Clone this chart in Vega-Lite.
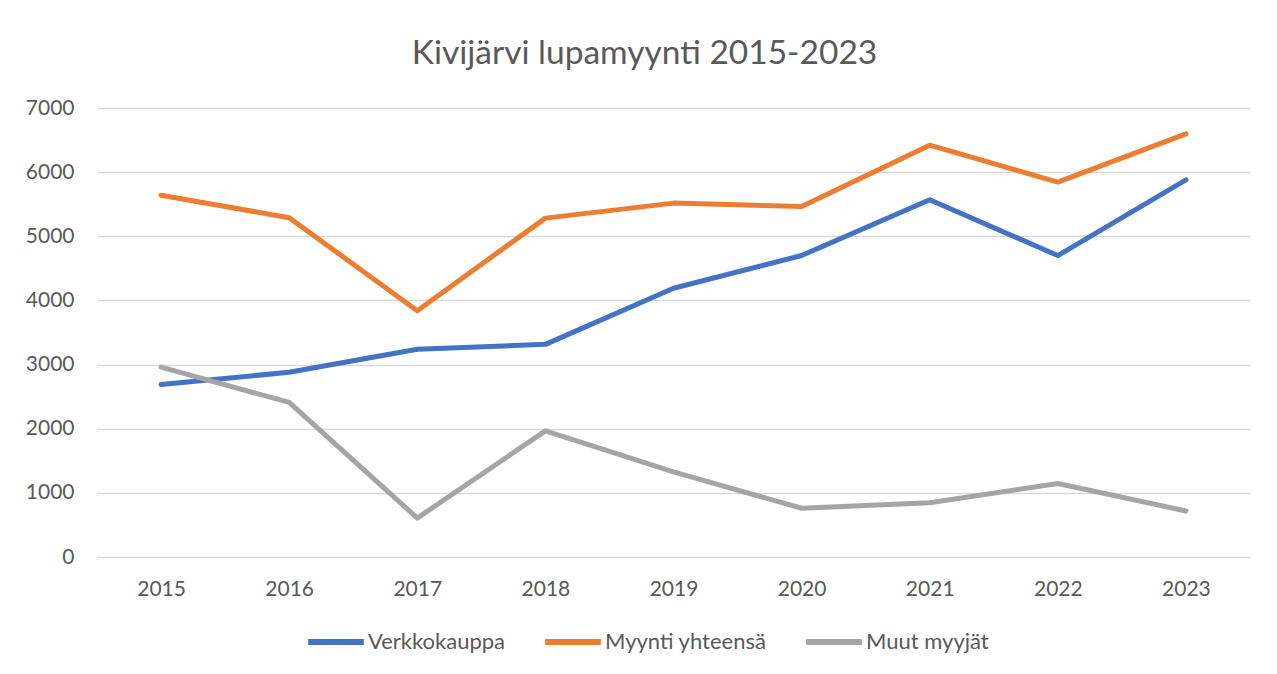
{
  "$schema": "https://vega.github.io/schema/vega-lite/v6.json",
  "width": 1153,
  "height": 449,
  "autosize": {"type": "none"},
  "padding": {"left": 97, "top": 108, "right": 27, "bottom": 117},
  "background": "white",
  "title": {
    "text": "Kivijärvi lupamyynti 2015-2023",
    "font": "Lato",
    "fontSize": 33.5,
    "fontWeight": "normal",
    "color": "#595959",
    "anchor": "middle",
    "baseline": "alphabetic",
    "offset": 0,
    "dx": -29
  },
  "config": {
    "view": {"stroke": null},
    "font": "Lato"
  },
  "data": {
    "values": [
      {"vuosi": "2015", "sarja": "Verkkokauppa", "arvo": 2690},
      {"vuosi": "2016", "sarja": "Verkkokauppa", "arvo": 2880},
      {"vuosi": "2017", "sarja": "Verkkokauppa", "arvo": 3238},
      {"vuosi": "2018", "sarja": "Verkkokauppa", "arvo": 3315},
      {"vuosi": "2019", "sarja": "Verkkokauppa", "arvo": 4190},
      {"vuosi": "2020", "sarja": "Verkkokauppa", "arvo": 4700},
      {"vuosi": "2021", "sarja": "Verkkokauppa", "arvo": 5570},
      {"vuosi": "2022", "sarja": "Verkkokauppa", "arvo": 4700},
      {"vuosi": "2023", "sarja": "Verkkokauppa", "arvo": 5880},
      {"vuosi": "2015", "sarja": "Myynti yhteensä", "arvo": 5640},
      {"vuosi": "2016", "sarja": "Myynti yhteensä", "arvo": 5290},
      {"vuosi": "2017", "sarja": "Myynti yhteensä", "arvo": 3840},
      {"vuosi": "2018", "sarja": "Myynti yhteensä", "arvo": 5283},
      {"vuosi": "2019", "sarja": "Myynti yhteensä", "arvo": 5517},
      {"vuosi": "2020", "sarja": "Myynti yhteensä", "arvo": 5465},
      {"vuosi": "2021", "sarja": "Myynti yhteensä", "arvo": 6420},
      {"vuosi": "2022", "sarja": "Myynti yhteensä", "arvo": 5845},
      {"vuosi": "2023", "sarja": "Myynti yhteensä", "arvo": 6596},
      {"vuosi": "2015", "sarja": "Muut myyjät", "arvo": 2960},
      {"vuosi": "2016", "sarja": "Muut myyjät", "arvo": 2410},
      {"vuosi": "2017", "sarja": "Muut myyjät", "arvo": 607},
      {"vuosi": "2018", "sarja": "Muut myyjät", "arvo": 1967},
      {"vuosi": "2019", "sarja": "Muut myyjät", "arvo": 1327},
      {"vuosi": "2020", "sarja": "Muut myyjät", "arvo": 760},
      {"vuosi": "2021", "sarja": "Muut myyjät", "arvo": 845},
      {"vuosi": "2022", "sarja": "Muut myyjät", "arvo": 1146},
      {"vuosi": "2023", "sarja": "Muut myyjät", "arvo": 718}
    ]
  },
  "mark": {"type": "line", "strokeWidth": 5, "strokeCap": "round", "strokeJoin": "round"},
  "encoding": {
    "x": {
      "field": "vuosi",
      "type": "ordinal",
      "scale": {"type": "point", "padding": 0.5},
      "axis": {
        "title": null,
        "labelAngle": 0,
        "labelFont": "Lato",
        "labelFontSize": 21,
        "labelColor": "#595959",
        "labelPadding": 21,
        "ticks": false,
        "domain": false,
        "grid": false
      }
    },
    "y": {
      "field": "arvo",
      "type": "quantitative",
      "scale": {"domain": [0, 7000], "nice": false},
      "axis": {
        "title": null,
        "values": [0, 1000, 2000, 3000, 4000, 5000, 6000, 7000],
        "format": "d",
        "labelFont": "Lato",
        "labelFontSize": 21,
        "labelColor": "#595959",
        "labelPadding": 23,
        "ticks": false,
        "domain": false,
        "grid": true,
        "gridColor": "#D9D9D9",
        "gridWidth": 1.3
      }
    },
    "color": {
      "field": "sarja",
      "type": "nominal",
      "sort": ["Verkkokauppa", "Myynti yhteensä", "Muut myyjät"],
      "scale": {
        "domain": ["Verkkokauppa", "Myynti yhteensä", "Muut myyjät"],
        "range": ["#4472C4", "#ED7D31", "#A5A5A5"]
      },
      "legend": {
        "title": null,
        "orient": "none",
        "direction": "horizontal",
        "legendX": 208,
        "legendY": 503,
        "symbolType": "stroke",
        "symbolSize": 3100,
        "symbolStrokeWidth": 6,
        "labelFont": "Lato",
        "labelFontSize": 22,
        "labelLimit": 400,
        "labelColor": "#595959",
        "labelOffset": 1,
        "columnPadding": 27
      }
    }
  }
}
